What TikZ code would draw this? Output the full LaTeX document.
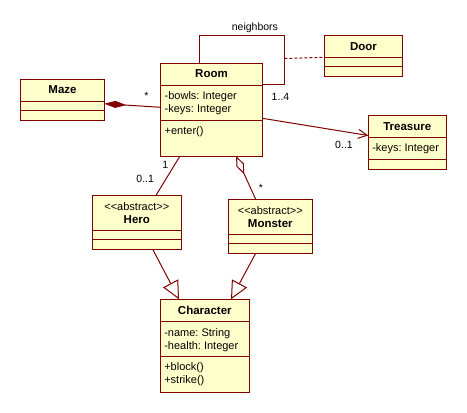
\documentclass[tikz,border=0pt]{standalone}
\usepackage{fontspec}
\setmainfont{Liberation Sans}
\usetikzlibrary{arrows.meta}
\definecolor{umlred}{RGB}{128,0,0}
\definecolor{umlfill}{RGB}{255,255,204}
\frenchspacing

\begin{document}
\begin{tikzpicture}
    [x=1pt, y=-1pt, line width=1pt,
    cls/.style = {rectangle, draw=umlred, fill=umlfill,
                inner sep=0pt, outer sep=0pt, anchor=north west},
    ttl/.style = {inner sep=0pt, anchor=base,
                font=\fontsize{11.5}{13}\selectfont\bfseries},
    stereo/.style = {inner sep=0pt, anchor=base,
                font=\fontsize{11}{13}\selectfont},
    txt/.style = {inner sep=0pt, anchor=base west,
                font=\fontsize{11}{13}\selectfont},
    lbl/.style = {inner sep=0pt, anchor=base,
                font=\fontsize{10.5}{12}\selectfont},
    sep/.style = {draw=umlred},
    assoc/.style = {draw=umlred},
    comp/.style = {draw=umlred, {Diamond[length=22pt,width=7pt]}-},
    aggr/.style = {draw=umlred, {Diamond[open,length=20pt,width=8pt]}-},
    nav/.style = {draw=umlred, -{Straight Barb[length=9pt,width=9pt]}},
    gen/.style = {draw=umlred, -{Triangle[open,length=18pt,width=17pt]}}]
    \useasboundingbox (0,0) rectangle (467,413);
    \node[cls, minimum width=83.6, minimum height=41] (maze) at (20.7,79) {};
    \node[cls, minimum width=101.6, minimum height=92.7] (room) at (160.7,63.3) {};
    \node[cls, minimum width=77.6, minimum height=41] (door) at (324.7,35.3) {};
    \node[cls, minimum width=78, minimum height=53.6] (treasure) at (368.3,115.7) {};
    \node[cls, minimum width=89, minimum height=54] (hero) at (92.3,195.3) {};
    \node[cls, minimum width=84, minimum height=54] (monster) at (228.3,199.3) {};
    \node[cls, minimum width=89, minimum height=93] (character) at (160.3,299.3) {};
    \draw[sep] ([yshift=-22]maze.north west) -- ([yshift=-22]maze.north east);
    \draw[sep] ([yshift=-31.3]maze.north west) -- ([yshift=-31.3]maze.north east);
    \draw[sep] ([yshift=-21.7]room.north west) -- ([yshift=-21.7]room.north east);
    \draw[sep] ([yshift=-56.7]room.north west) -- ([yshift=-56.7]room.north east);
    \draw[sep] ([yshift=-22]door.north west) -- ([yshift=-22]door.north east);
    \draw[sep] ([yshift=-31]door.north west) -- ([yshift=-31]door.north east);
    \draw[sep] ([yshift=-21.3]treasure.north west) -- ([yshift=-21.3]treasure.north east);
    \draw[sep] ([yshift=-43.6]treasure.north west) -- ([yshift=-43.6]treasure.north east);
    \draw[sep] ([yshift=-35]hero.north west) -- ([yshift=-35]hero.north east);
    \draw[sep] ([yshift=-44]hero.north west) -- ([yshift=-44]hero.north east);
    \draw[sep] ([yshift=-35]monster.north west) -- ([yshift=-35]monster.north east);
    \draw[sep] ([yshift=-44]monster.north west) -- ([yshift=-44]monster.north east);
    \draw[sep] ([yshift=-22.4]character.north west) -- ([yshift=-22.4]character.north east);
    \draw[sep] ([yshift=-57]character.north west) -- ([yshift=-57]character.north east);
    \node[ttl] (mazettl) at ([yshift=-14.7]maze.north) {Maze};
    \node[ttl] (roomttl) at ([yshift=-14.5]room.north) {Room};
    \node[txt] (roomattra) at ([xshift=3.5,yshift=-36.4]room.north west) {-bowls: Integer};
    \node[txt] (roomattrb) at ([xshift=3.5,yshift=-49.2]room.north west) {-keys: Integer};
    \node[txt] (roomopa) at ([xshift=3.5,yshift=-71.2]room.north west) {+enter()};
    \node[ttl] (doorttl) at ([yshift=-15]door.north) {Door};
    \node[ttl] (treasurettl) at ([yshift=-14.5]treasure.north) {Treasure};
    \node[txt] (treasureattra) at ([xshift=3.5,yshift=-36]treasure.north west) {-keys: Integer};
    \node[stereo] (herost) at ([yshift=-15]hero.north) {<\kern0pt<abstract>\kern0pt>};
    \node[ttl] (herottl) at ([yshift=-27.9]hero.north) {Hero};
    \node[stereo] (monsterst) at ([yshift=-15.2]monster.north) {<\kern0pt<abstract>\kern0pt>};
    \node[ttl] (monsterttl) at ([yshift=-27.7]monster.north) {Monster};
    \node[ttl] (characterttl) at ([yshift=-14.7]character.north) {Character};
    \node[txt] (characterattra) at ([xshift=3.5,yshift=-37.1]character.north west) {-name: String};
    \node[txt] (characterattrb) at ([xshift=3.5,yshift=-49.9]character.north west) {-health: Integer};
    \node[txt] (characteropa) at ([xshift=3.5,yshift=-71]character.north west) {+block()};
    \node[txt] (characteropb) at ([xshift=3.5,yshift=-83.8]character.north west) {+strike()};
    \coordinate (nbcorner) at (284.3,35);
    \coordinate (nbmid) at (284.3,58.5);
    \draw[comp] ([yshift=-4.2]maze.east) -- ([yshift=2.35]room.west);
    \draw[assoc] ([xshift=-12.2]room.north) |- (nbcorner) |- ([yshift=25.6]room.east);
    \draw[assoc, dash pattern=on 3pt off 2pt] (nbmid) -- ([yshift=-1.5]door.west);
    \draw[nav] ([yshift=-8.65]room.east) -- ([yshift=7]treasure.west);
    \draw[assoc] ([xshift=-31.5]room.south) -- ([xshift=19.2]hero.north);
    \draw[aggr] ([xshift=24.5]room.south) -- ([xshift=-14.6]monster.north);
    \draw[gen] ([xshift=15.9]hero.south) -- ([xshift=-25.8]character.north);
    \draw[gen] ([xshift=-14.6]monster.south) -- ([xshift=26.2]character.north);
    \node[lbl] (mazemult) at (146.3,99) {*};
    \node[lbl] (nblabel) at (254.9,30) {neighbors};
    \node[lbl] (nbmult) at (280.5,100.7) {1..4};
    \node[lbl] (treasuremult) at (344,148.3) {0..1};
    \node[lbl] (roomheromult) at (165.3,168.3) {1};
    \node[lbl] (heromult) at (145.2,182.7) {0..1};
    \node[lbl] (monstermult) at (260.8,191) {*};
\end{tikzpicture}
\end{document}
